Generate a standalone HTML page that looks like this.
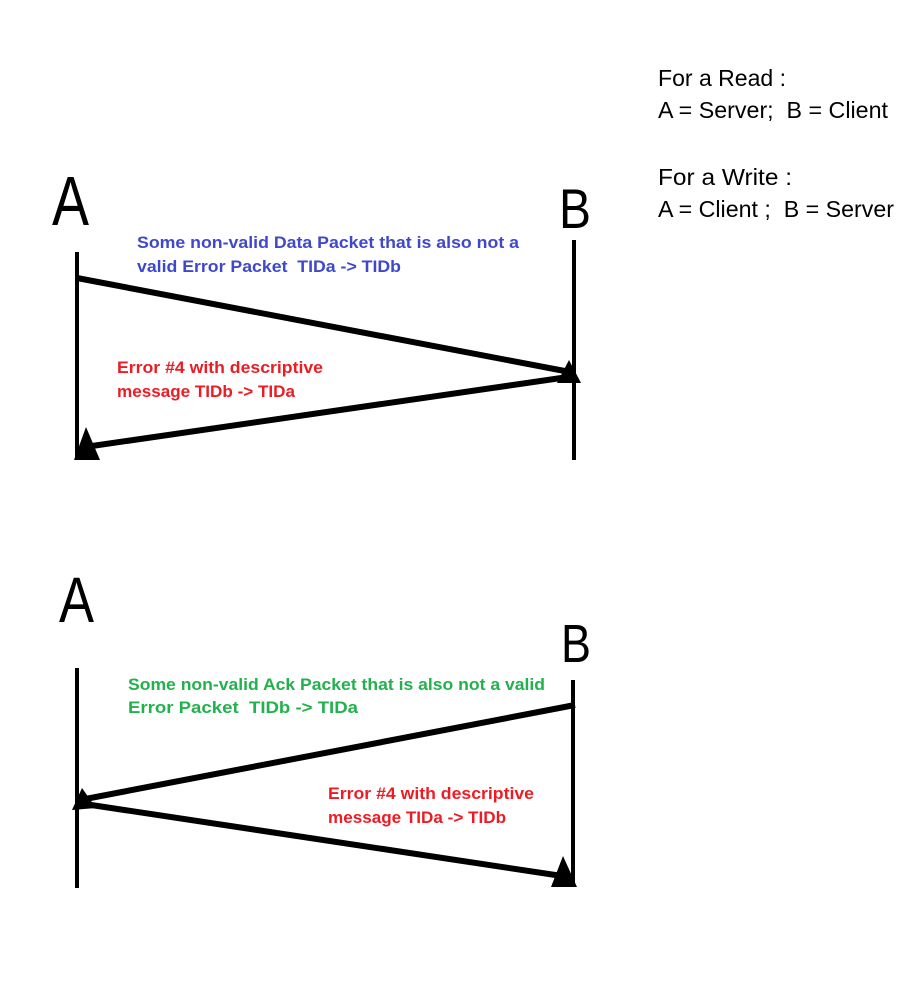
<!DOCTYPE html>
<html><head><meta charset="utf-8"><style>
html,body{margin:0;padding:0;background:#fff;}
svg{display:block;}
text{font-family:"Liberation Sans",sans-serif;}
.big{fill:#000;}
.lbl{font-size:17px;font-weight:bold;}
.note{font-size:23px;fill:#000;}
</style></head><body>
<svg width="913" height="990" viewBox="0 0 913 990">
<g>
<text class="big" x="52" y="225" font-size="70" textLength="37" lengthAdjust="spacingAndGlyphs">A</text>
<text class="big" x="559" y="228" font-size="56" textLength="32" lengthAdjust="spacingAndGlyphs">B</text>
<line x1="77" y1="252" x2="77" y2="460" stroke="#000" stroke-width="4"/>
<line x1="574" y1="240" x2="574" y2="460" stroke="#000" stroke-width="4"/>
<text class="lbl" fill="#3f48cc" x="137" y="248" textLength="382" lengthAdjust="spacingAndGlyphs">Some non-valid Data Packet that is also not a</text>
<text class="lbl" fill="#3f48cc" x="137" y="272" textLength="264" lengthAdjust="spacingAndGlyphs">valid Error Packet &#160;TIDa -&gt; TIDb</text>
<line x1="77" y1="278" x2="570" y2="372" stroke="#000" stroke-width="6"/>
<polygon points="569,360 557,383 581,383" fill="#000"/>
<text class="lbl" fill="#ed1c24" x="117" y="373" textLength="206" lengthAdjust="spacingAndGlyphs">Error #4 with descriptive</text>
<text class="lbl" fill="#ed1c24" x="117" y="397" textLength="178" lengthAdjust="spacingAndGlyphs">message TIDb -&gt; TIDa</text>
<line x1="575" y1="376" x2="85" y2="447" stroke="#000" stroke-width="6"/>
<polygon points="86,427 74,460 100,460" fill="#000"/>
</g>
<g>
<text class="big" x="59" y="622" font-size="64" textLength="35" lengthAdjust="spacingAndGlyphs">A</text>
<text class="big" x="561" y="662" font-size="54" textLength="30" lengthAdjust="spacingAndGlyphs">B</text>
<line x1="77" y1="668" x2="77" y2="888" stroke="#000" stroke-width="4"/>
<line x1="573" y1="680" x2="573" y2="886" stroke="#000" stroke-width="4"/>
<text class="lbl" fill="#22b14c" x="128" y="690" textLength="417" lengthAdjust="spacingAndGlyphs">Some non-valid Ack Packet that is also not a valid</text>
<text class="lbl" fill="#22b14c" x="128" y="713" textLength="230" lengthAdjust="spacingAndGlyphs">Error Packet &#160;TIDb -&gt; TIDa</text>
<line x1="575" y1="705" x2="80" y2="800" stroke="#000" stroke-width="6"/>
<polygon points="82,788 72,810 96,808" fill="#000"/>
<text class="lbl" fill="#ed1c24" x="328" y="799" textLength="206" lengthAdjust="spacingAndGlyphs">Error #4 with descriptive</text>
<text class="lbl" fill="#ed1c24" x="328" y="823" textLength="178" lengthAdjust="spacingAndGlyphs">message TIDa -&gt; TIDb</text>
<line x1="78" y1="803" x2="562" y2="876" stroke="#000" stroke-width="6"/>
<polygon points="563,856 551,887 577,887" fill="#000"/>
</g>
<g>
<text class="note" x="658" y="86" textLength="128" lengthAdjust="spacingAndGlyphs">For a Read :</text>
<text class="note" x="658" y="118" textLength="230" lengthAdjust="spacingAndGlyphs">A = Server;&#160; B = Client</text>
<text class="note" x="658" y="185" textLength="134" lengthAdjust="spacingAndGlyphs">For a Write :</text>
<text class="note" x="658" y="217" textLength="236" lengthAdjust="spacingAndGlyphs">A = Client ;&#160; B = Server</text>
</g>
</svg>
</body></html>
